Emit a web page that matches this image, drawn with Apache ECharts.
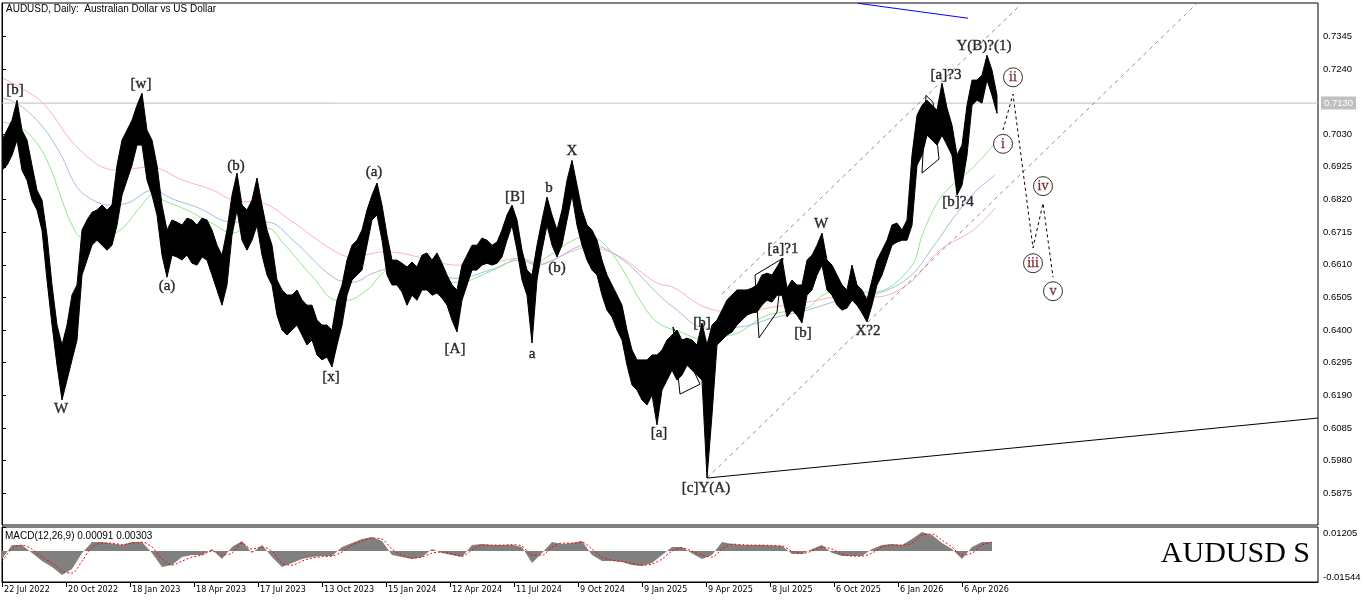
<!DOCTYPE html>
<html><head><meta charset="utf-8">
<script src="https://cdn.jsdelivr.net/npm/echarts@6/dist/echarts.min.js"></script>
<style>html,body{margin:0;padding:0;background:#fff;}#c{width:1366px;height:603px;}</style>
</head><body><div id="c"></div>
<script>
// ---------- data ----------
const dateLabels = ['22 Jul 2022','20 Oct 2022','18 Jan 2023','18 Apr 2023','17 Jul 2023','13 Oct 2023','15 Jan 2024','12 Apr 2024','11 Jul 2024','9 Oct 2024','9 Jan 2025','9 Apr 2025','8 Jul 2025','6 Oct 2025','6 Jan 2026','6 Apr 2026'];
const dateTickDays = [0,64,128,192,256,320,384,448,512,576,640,704,768,832,896,960];
const priceTicks = [0.7345,0.7240,0.7030,0.6925,0.6820,0.6715,0.6610,0.6505,0.6400,0.6295,0.6190,0.6085,0.5980,0.5875];
const currentPrice = 0.7130;
const lastDay = 1316;

// weekly high / low band (one value every 5 trading days, from day 0)
const BAR_STEP = 5;
const weeklyHigh = [
.7011,.7043,.7075,.7139,.7043,.7011,.6930,.6850,.6818,.6705,
.6545,.6416,.6352,.6416,.6513,.6545,.6722,.6754,.6779,.6786,
.6802,.6786,.6802,.6930,.7011,.7043,.7075,.7123,.7162,.7043,
.7011,.6930,.6802,.6722,.6754,.6747,.6738,.6760,.6754,.6738,
.6760,.6754,.6722,.6673,.6641,.6722,.6834,.6905,.6802,.6786,
.6818,.6889,.6802,.6722,.6673,.6561,.6529,.6513,.6513,.6529,
.6497,.6480,.6480,.6432,.6416,.6416,.6400,.6497,.6545,.6625,
.6673,.6689,.6722,.6786,.6834,.6873,.6802,.6705,.6625,.6625,
.6615,.6603,.6619,.6603,.6641,.6648,.6625,.6648,.6615,.6577,
.6545,.6529,.6609,.6641,.6673,.6673,.6696,.6689,.6673,.6683,
.6722,.6770,.6802,.6754,.6657,.6593,.6577,.6673,.6754,.6828,
.6770,.6722,.6786,.6882,.6946,.6866,.6786,.6738,.6722,.6689,
.6625,.6577,.6545,.6513,.6480,.6400,.6336,.6304,.6304,.6304,
.6320,.6320,.6336,.6368,.6384,.6400,.6368,.6374,.6368,.6352,
.6423,.6352,.6416,.6432,.6464,.6497,.6513,.6529,.6529,.6529,
.6535,.6545,.6577,.6583,.6577,.6603,.6631,.6535,.6561,.6545,
.6545,.6625,.6641,.6673,.6712,.6625,.6609,.6577,.6545,.6529,
.6609,.6545,.6529,.6497,.6561,.6625,.6657,.6689,.6738,.6744,
.6722,.6754,.6963,.7091,.7123,.7139,.7123,.7107,.7194,.7114,
.7059,.6963,.6995,.7123,.7204,.7204,.7220,.7284,.7236,.7155];
const weeklyLow = [
.6914,.6930,.6962,.7011,.6914,.6882,.6818,.6786,.6721,.6561,
.6416,.6287,.6175,.6239,.6304,.6368,.6577,.6625,.6673,.6689,
.6673,.6657,.6673,.6737,.6834,.6882,.6930,.6995,.6995,.6882,
.6834,.6770,.6641,.6570,.6641,.6635,.6625,.6641,.6615,.6609,
.6635,.6625,.6577,.6529,.6480,.6545,.6705,.6786,.6689,.6657,
.6689,.6737,.6641,.6577,.6545,.6448,.6400,.6384,.6400,.6416,
.6384,.6352,.6368,.6320,.6304,.6313,.6281,.6352,.6416,.6512,
.6561,.6577,.6593,.6673,.6754,.6770,.6689,.6577,.6545,.6545,
.6522,.6480,.6512,.6496,.6529,.6529,.6512,.6519,.6503,.6480,
.6432,.6394,.6496,.6545,.6593,.6593,.6609,.6615,.6609,.6615,
.6635,.6689,.6737,.6657,.6561,.6512,.6358,.6561,.6657,.6737,
.6673,.6635,.6673,.6754,.6834,.6737,.6673,.6625,.6593,.6577,
.6512,.6464,.6442,.6400,.6368,.6287,.6223,.6207,.6175,.6159,
.6191,.6095,.6207,.6239,.6271,.6239,.6255,.6287,.6271,.6255,
.6239,.5924,.6127,.6352,.6368,.6384,.6394,.6416,.6432,.6448,
.6455,.6458,.6480,.6496,.6490,.6512,.6512,.6442,.6464,.6448,
.6423,.6512,.6529,.6577,.6609,.6529,.6512,.6480,.6464,.6471,
.6496,.6480,.6455,.6426,.6480,.6545,.6577,.6625,.6673,.6683,
.6689,.6689,.6737,.6930,.6962,.7027,.7011,.6995,.7027,.6995,
.6962,.6834,.6866,.6962,.7123,.7139,.7130,.7204,.7155,.7097];

// moving averages (trading-day index, price)
const maFastDays = [1,18,35,48,60,70,80,98,118,138,151,161,185,208,231,245,265,281,311,335,345,365,388,408,431,458,475,498,518,531,548,571,585,601,621,638,655,678,705,721,738,761,781,805,821,838,855,871,908,921,935,948,965,978,993];
const maFast = [.7069,.7052,.7001,.6924,.6818,.6738,.6699,.6705,.6721,.6795,.6834,.6818,.6786,.6747,.6712,.6728,.6728,.6680,.6570,.6496,.6496,.6529,.6593,.6577,.6570,.6551,.6570,.6603,.6631,.6615,.6641,.6689,.6702,.6680,.6593,.6496,.6426,.6394,.6368,.6378,.6394,.6442,.6458,.6471,.6513,.6529,.6522,.6522,.6599,.6712,.6808,.6860,.6905,.6946,.7001];
const maMidDays = [1,18,41,58,75,91,108,125,151,171,195,231,265,291,331,351,371,398,421,455,488,518,535,555,575,588,621,655,671,705,738,771,805,838,871,906,931,955,975,993];
const maMid = [.7146,.7123,.7052,.6969,.6860,.6818,.6802,.6808,.6850,.6821,.6795,.6747,.6747,.6689,.6570,.6554,.6583,.6603,.6583,.6567,.6593,.6625,.6609,.6631,.6667,.6673,.6625,.6519,.6474,.6406,.6410,.6439,.6464,.6496,.6513,.6567,.6667,.6776,.6850,.6898];
const maSlowDays = [1,18,41,78,115,148,181,211,231,261,288,331,351,381,398,421,455,488,518,538,568,585,615,655,671,705,738,771,805,838,871,905,938,971,993];
const maSlow = [.7210,.7181,.7130,.6979,.6914,.6924,.6882,.6850,.6818,.6808,.6754,.6657,.6635,.6651,.6648,.6631,.6609,.6615,.6631,.6615,.6651,.6664,.6641,.6551,.6538,.6471,.6458,.6474,.6490,.6506,.6506,.6545,.6657,.6721,.6792];

// MACD (one value every 10 trading days)
const MACD_STEP = 10;
const macdMain = [
-.004,.003,.003,-.001,-.005,-.008,-.012,-.009,-.001,.0045,
.0045,.0038,.003,.0045,.0045,-.001,-.008,-.007,-.003,-.002,
-.002,.001,-.004,.002,.005,-.001,.003,-.003,-.008,-.006,
-.004,-.003,-.0025,-.0025,.002,.004,.006,.007,.005,-.002,
-.003,-.004,-.003,.001,-.001,-.002,-.003,.003,.0035,.003,
.003,.0032,.002,-.006,-.001,.0045,.0035,.004,.005,-.002,
-.005,-.005,-.0055,-.007,-.0075,-.006,-.002,.002,.002,-.0012,
-.004,-.002,.0045,.0035,.003,.003,.003,.0028,.0025,-.0015,
-.0015,.001,.003,-.001,-.0025,-.0025,-.0025,.001,.003,.0035,
.003,.006,.0095,.008,.004,.001,-.004,.002,.0045,.0045];
const macdSignal = [
-.005,.001,.003,.001,-.003,-.006,-.010,-.011,-.005,.002,
.004,.004,.0032,.004,.0045,.002,-.004,-.007,-.005,-.003,
-.002,0,-.002,-.001,.004,.001,.002,0,-.006,-.007,
-.005,-.0035,-.0028,-.0025,-.0005,.003,.005,.0065,.006,.001,
-.002,-.0035,-.003,-.001,-.0005,-.0015,-.0025,.0005,.003,.003,
.003,.0032,.0025,-.002,-.002,.002,.004,.004,.0045,.001,
-.003,-.0045,-.0052,-.0062,-.007,-.0065,-.004,0,.0015,0,
-.002,-.003,.001,.0035,.0032,.003,.003,.0028,.0026,0,
-.0012,0,.002,.001,-.0015,-.0025,-.0025,-.001,.002,.003,
.003,.004,.008,.0085,.0055,.002,-.002,-.001,.003,.0045];
const macdMax = 0.01205, macdMin = -0.01544;

// wave labels
const waveText  = ['[b]','[w]','W','(a)','(b)','[x]','(a)','[A]','[B]','a','b','(b)','X','[a]','[b]','[c]Y(A)','[a]?1','[b]','W','X?2','[a]?3','[b]?4','Y(B)?(1)'];
const waveDay   = [13,139,59,165,234,329,372,453,513,530,547,555,570,657,700,704,781,801,819,866,944,956,982];
const wavePrice = [.7171,.7191,.6146,.6541,.6927,.6249,.6908,.6339,.6828,.6323,.6856,.6599,.6975,.6069,.6423,.5892,.6660,.6390,.6741,.6397,.7220,.6811,.7313];

// projected sub-waves
const projText  = ['i','ii','iii','iv','v'];
const projDay   = [1001,1011,1031,1041,1051];
const projPrice = [.6999,.7213,.6615,.6863,.6525];
const projPath  = [[1001,.7043],[1011,.7159],[1031,.6664],[1041,.6808],[1051,.6570]];

// drawn lines
const channelLow  = [[705,.5924],[1195,.7451]];
const channelHigh = [[720,.6516],[1020,.7451]];
const baseLine    = [[705,.5924],[1316,.6117]];
const blueLine    = [[856,.7451],[966,.7403]];
const triangle1   = [[671,.6410],[678,.6194],[698,.6226],[671,.6410]];
const triangle2   = [[753,.6577],[781,.6631],[775,.6458],[757,.6375],[753,.6577]];
const triangle3   = [[924,.7155],[931,.7133],[937,.6950],[920,.6905],[924,.7155]];

// ---------- chart ----------
const SANS = "'Liberation Sans', Arial, sans-serif";
const NARROW = "'Liberation Sans Narrow', 'DejaVu Sans Condensed', 'Liberation Sans', sans-serif";
const SERIF = "'Liberation Serif', 'Times New Roman', serif";

const chart = echarts.init(document.getElementById('c'), null, {renderer: 'canvas'});
const pairs = (days, vals) => days.map((d, i) => [d, vals[i]]);

function lineSeries(data, color, type, width, extra) {
  return Object.assign({
    type: 'line', xAxisIndex: 0, yAxisIndex: 0, data: data, symbol: 'none', silent: true,
    lineStyle: {color: color, width: width || 1, type: type || 'solid'}, z: 3
  }, extra || {});
}

const option = {
  animation: false,
  backgroundColor: '#fff',
  title: [
    {text: 'AUDUSD, Daily:  Australian Dollar vs US Dollar', left: 6, top: 4, padding: 0,
     textStyle: {fontFamily: SANS, fontSize: 10, fontWeight: 'normal', color: '#000'}},
    {text: 'MACD(12,26,9) 0.00091 0.00303', left: 5, top: 531, padding: 0,
     textStyle: {fontFamily: SANS, fontSize: 10, fontWeight: 'normal', color: '#000'}},
    {text: 'AUDUSD S', right: 56, top: 539, padding: 0,
     textStyle: {fontFamily: SERIF, fontSize: 30, fontWeight: 'normal', color: '#000'}}
  ],
  grid: [
    {left: 2, top: 3, width: 1316, height: 522, show: true, borderColor: '#000', borderWidth: 1, backgroundColor: '#fff'},
    {left: 2, top: 527, width: 1316, height: 55, show: true, borderColor: '#000', borderWidth: 1, backgroundColor: '#fff'}
  ],
  xAxis: [
    {type: 'value', gridIndex: 0, min: 0, max: lastDay, show: false},
    {type: 'value', gridIndex: 1, min: 0, max: lastDay,
     axisLine: {show: true, onZero: false, lineStyle: {color: '#000'}},
     axisTick: {show: true, customValues: dateTickDays, length: 5, lineStyle: {color: '#000'}},
     axisLabel: {show: true, customValues: dateTickDays, align: 'left', margin: 3, padding: [0,0,0,2],
       fontFamily: NARROW, fontSize: 9, color: '#000',
       formatter: v => { const k = dateTickDays.indexOf(v); return k >= 0 ? dateLabels[k] : ''; }},
     splitLine: {show: false}}
  ],
  yAxis: [
    {type: 'value', gridIndex: 0, position: 'right', min: 0.5773, max: 0.7452,
     axisLine: {show: true, lineStyle: {color: '#000'}},
     axisTick: {show: true, customValues: priceTicks, length: 4, lineStyle: {color: '#000'}},
     axisLabel: {show: true, customValues: priceTicks, margin: 5, fontFamily: SANS, fontSize: 9.5, color: '#000',
       formatter: v => v.toFixed(4)},
     splitLine: {show: false}},
    {type: 'value', gridIndex: 1, position: 'right', min: macdMin, max: macdMax,
     axisLine: {show: true, lineStyle: {color: '#000'}},
     axisTick: {show: true, customValues: [macdMax, macdMin], length: 4, lineStyle: {color: '#000'}},
     axisLabel: {show: true, customValues: [macdMax, macdMin], margin: 5, fontFamily: SANS, fontSize: 9.5, color: '#000',
       formatter: v => v > 0 ? '{t|' + macdMax.toFixed(5) + '}' : '{b|' + macdMin.toFixed(5) + '}',
       rich: {t: {padding: [12,0,0,0], fontSize: 9.5, fontFamily: SANS}, b: {padding: [0,0,9,0], fontSize: 9.5, fontFamily: SANS}}},
     splitLine: {show: false}}
  ],
  series: [
    // current price line
    lineSeries([[0, currentPrice], [lastDay, currentPrice]], '#C0C0C0', 'solid', 1, {z: 1,
      endLabel: {show: true, formatter: currentPrice.toFixed(4), color: '#fff', backgroundColor: '#C0C0C0',
                 padding: [2,3,1,3], distance: 3, fontFamily: SANS, fontSize: 9.5}}),
    // moving averages
    lineSeries(pairs(maSlowDays, maSlow), '#FFB0BC', 'solid', 1, {smooth: 0.4, z: 2}),
    lineSeries(pairs(maMidDays, maMid), '#A8BCDC', 'solid', 1, {smooth: 0.4, z: 2}),
    lineSeries(pairs(maFastDays, maFast), '#8FE88F', 'solid', 1, {smooth: 0.4, z: 2}),
    // channel & objects
    lineSeries(channelLow, '#909090', [4,4], 1),
    lineSeries(channelHigh, '#909090', [4,4], 1),
    lineSeries(baseLine, '#000', 'solid', 1),
    lineSeries(blueLine, '#0000FF', 'solid', 1),
    lineSeries(triangle1, '#000', 'solid', 1),
    lineSeries(triangle2, '#000', 'solid', 1),
    lineSeries(triangle3, '#000', 'solid', 1),
    lineSeries(projPath, '#000', [3,3], 1),
    // price band
    {type: 'custom', xAxisIndex: 0, yAxisIndex: 0, silent: true, z: 4, clip: true,
     data: [[0, weeklyLow[0]]],
     renderItem: function (params, api) {
       const pts = [];
       for (let i = 0; i < weeklyHigh.length; i++) pts.push(api.coord([i * BAR_STEP, weeklyHigh[i]]));
       for (let i = weeklyLow.length - 1; i >= 0; i--) pts.push(api.coord([i * BAR_STEP, weeklyLow[i]]));
       return {type: 'polygon', shape: {points: pts}, style: {fill: '#000', stroke: '#000', lineWidth: 1}};
     }},
    // wave labels
    {type: 'scatter', xAxisIndex: 0, yAxisIndex: 0, silent: true, z: 6, symbolSize: 1,
     itemStyle: {color: 'rgba(0,0,0,0)'},
     data: waveText.map((t, i) => ({name: t, value: [waveDay[i], wavePrice[i]]})),
     label: {show: true, position: 'inside', formatter: '{b}', fontFamily: SERIF, fontSize: 15, color: '#000',
             textBorderColor: '#000', textBorderWidth: 0.4}},
    {type: 'scatter', xAxisIndex: 0, yAxisIndex: 0, silent: true, z: 6, symbol: 'circle', symbolSize: 19,
     itemStyle: {color: '#fff', borderColor: '#000', borderWidth: 1},
     data: projText.map((t, i) => ({name: t, value: [projDay[i], projPrice[i]]})),
     label: {show: true, position: 'inside', formatter: '{b}', fontFamily: SERIF, fontSize: 14, color: '#600000',
             textBorderColor: '#600000', textBorderWidth: 0.3}},
    // MACD
    {type: 'line', xAxisIndex: 1, yAxisIndex: 1, symbol: 'none', silent: true,
     data: macdMain.map((v, i) => [i * MACD_STEP, v]),
     lineStyle: {width: 0, color: '#808080'}, areaStyle: {color: '#808080', opacity: 1}},
    {type: 'line', xAxisIndex: 1, yAxisIndex: 1, symbol: 'none', silent: true, smooth: 0.3,
     data: macdSignal.map((v, i) => [i * MACD_STEP, v]),
     lineStyle: {width: 1, color: '#FF0000', type: [2,2]}}
  ]
};
chart.setOption(option);
</script></body></html>
